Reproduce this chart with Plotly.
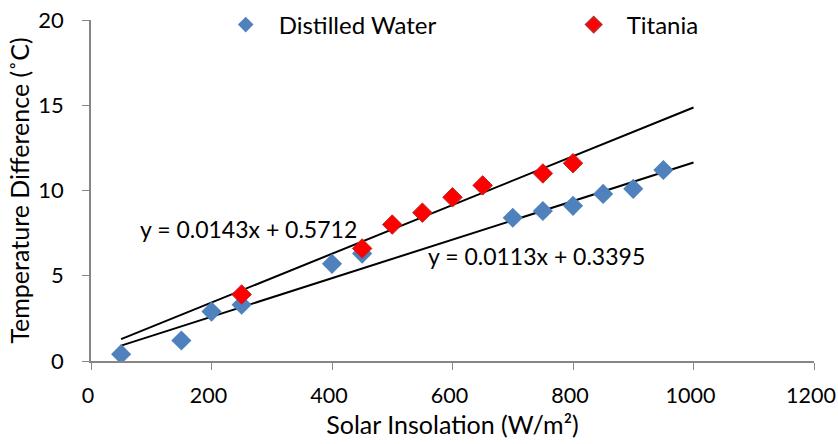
import plotly.graph_objects as go

# Data
water_x = [50, 150, 200, 250, 400, 450, 700, 750, 800, 850, 900, 950]
water_y = [0.4, 1.2, 2.9, 3.3, 5.7, 6.3, 8.4, 8.8, 9.1, 9.8, 10.1, 11.2]
titania_x = [250, 450, 500, 550, 600, 650, 750, 800]
titania_y = [3.9, 6.6, 8.0, 8.7, 9.6, 10.3, 11.0, 11.6]

# Trendline coefficients (from the chart's equations) and extent
water_fit = (0.0113, 0.3395)
titania_fit = (0.0143, 0.5712)
trend_x = [50, 1000]

x_ticks = [0, 200, 400, 600, 800, 1000, 1200]
y_ticks = [0, 5, 10, 15, 20]

FONT = "Lato"
BLUE = "#4F81BD"
RED = "#FF0000"
AXIS = "#868686"

fig = go.Figure()

for (m, b) in (titania_fit, water_fit):
    fig.add_trace(go.Scatter(
        x=trend_x, y=[m * xx + b for xx in trend_x], mode="lines",
        line=dict(color="black", width=2), showlegend=False, hoverinfo="skip"))

fig.add_trace(go.Scatter(
    x=water_x, y=water_y, mode="markers", name="Distilled Water",
    marker=dict(symbol="diamond", size=15.5, color=BLUE, line=dict(width=0))))
fig.add_trace(go.Scatter(
    x=titania_x, y=titania_y, mode="markers", name="Titania",
    marker=dict(symbol="diamond", size=15, color=RED,
                line=dict(width=1, color="#C0282A"))))

fig.add_annotation(x=262, y=7.73, xref="x", yref="y",
                   text=f"y = {titania_fit[0]}x + {titania_fit[1]}",
                   showarrow=False, xanchor="center", yanchor="middle",
                   font=dict(family=FONT, size=23, color="black"))
fig.add_annotation(x=740, y=6.15, xref="x", yref="y",
                   text=f"y = {water_fit[0]}x + {water_fit[1]}",
                   showarrow=False, xanchor="center", yanchor="middle",
                   font=dict(family=FONT, size=23, color="black"))

fig.update_layout(
    width=838, height=444,
    margin=dict(l=91, r=24, t=20, b=83, autoexpand=False),
    paper_bgcolor="white", plot_bgcolor="white",
    font=dict(family=FONT, size=22, color="black"),
    legend=dict(orientation="h", xref="paper", yref="paper",
                x=(212.7 - 91) / 723, xanchor="left", y=1 - 5 / 340.7, yanchor="middle",
                font=dict(family=FONT, size=24), itemsizing="constant",
                bgcolor="rgba(0,0,0,0)", traceorder="normal",
                itemwidth=56, entrywidth=277),
    xaxis=dict(range=[0, 1200], tickvals=x_ticks, showgrid=False, zeroline=False,
               showline=True, linecolor=AXIS, linewidth=1.5,
               ticks="outside", ticklen=7, tickcolor=AXIS, ticklabelstandoff=7,
               ticklabelshift=-3, ticklabeloverflow="allow",
               tickfont=dict(family=FONT, size=21.5),
               title=dict(text="Solar Insolation (W/m²)", standoff=10,
                          font=dict(family=FONT, size=25))),
    yaxis=dict(range=[0, 20], tickvals=y_ticks, showgrid=False, zeroline=False,
               showline=True, linecolor=AXIS, linewidth=1.5,
               ticks="outside", ticklen=7, tickcolor=AXIS, ticklabelstandoff=14,
               ticklabeloverflow="allow",
               tickfont=dict(family=FONT, size=22),
               title=dict(text="Temperature Difference (˚C)", standoff=2,
                          font=dict(family=FONT, size=25))),
)

fig.write_html("out.html", config={"displayModeBar": False},
               post_script="document.body.style.margin='0';")
